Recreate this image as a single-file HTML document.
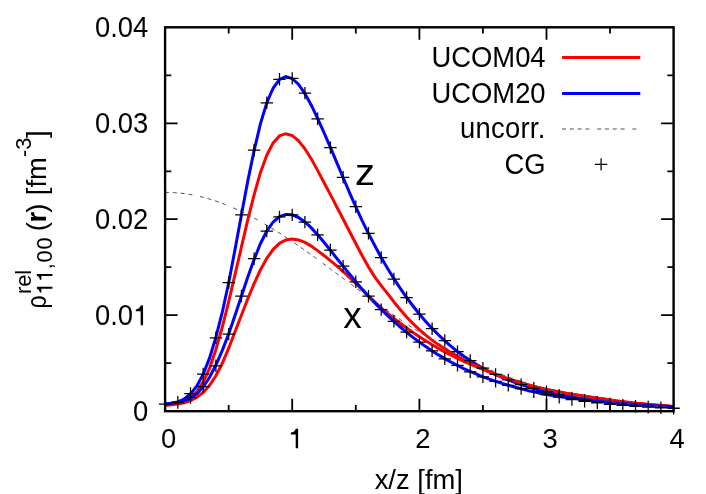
<!DOCTYPE html>
<html><head><meta charset="utf-8"><title>plot</title>
<style>
html,body{margin:0;padding:0;background:#fff;}
svg{display:block;will-change:transform;}
text{font-family:"Liberation Sans",sans-serif;font-size:27.4px;fill:#000;white-space:pre;}
.s{font-size:21.8px;}
.b{font-size:37px;}
</style></head><body>
<svg width="706" height="494" viewBox="0 0 706 494">
<rect width="706" height="494" fill="#fff"/>
<path d="M165.1,404.1 L171.5,403.3 L177.8,401.9 L184.2,399.0 L190.5,394.0 L196.9,386.0 L203.2,374.2 L209.6,357.9 L215.9,337.2 L222.3,312.1 L228.7,282.7 L235.0,249.6 L241.4,214.9 L247.7,181.4 L254.1,150.6 L260.4,123.9 L266.8,102.7 L273.2,88.0 L279.5,79.5 L285.9,76.6 L292.2,78.5 L298.6,84.4 L304.9,93.6 L311.3,105.2 L317.6,118.4 L324.0,132.6 L330.4,147.3 L336.7,162.4 L343.1,177.5 L349.4,192.4 L355.8,206.8 L362.1,220.6 L368.5,233.6 L374.9,245.8 L381.2,257.5 L387.6,268.4 L393.9,278.7 L400.3,288.4 L406.6,297.5 L413.0,306.0 L419.4,314.0 L425.7,321.4 L432.1,328.4 L438.4,334.8 L444.8,340.8 L451.1,346.3 L457.5,351.5 L463.8,356.2 L470.2,360.5 L476.6,364.6 L482.9,368.2 L489.3,371.6 L495.6,374.7 L502.0,377.5 L508.3,380.1 L514.7,382.4 L521.1,384.6 L527.4,386.6 L533.8,388.5 L540.1,390.2 L546.5,391.8 L552.8,393.3 L559.2,394.6 L565.5,395.9 L571.9,397.0 L578.3,398.1 L584.6,399.1 L591.0,400.0 L597.3,400.8 L603.7,401.6 L610.0,402.3 L616.4,403.0 L622.8,403.6 L629.1,404.2 L635.5,404.7 L641.8,405.1 L648.2,405.5 L654.5,405.8 L660.9,406.0 L667.2,406.3 L673.6,406.5" fill="none" stroke="#00f" stroke-width="3"/>
<path d="M165.1,405.4 L171.5,404.2 L177.8,403.1 L184.2,401.2 L190.5,397.6 L196.9,391.5 L203.2,381.9 L209.6,368.1 L215.9,349.5 L222.3,327.0 L228.7,301.7 L235.0,274.7 L241.4,247.2 L247.7,220.2 L254.1,194.9 L260.4,172.7 L266.8,155.1 L273.2,142.9 L279.5,135.9 L285.9,133.7 L292.2,135.5 L298.6,140.8 L304.9,148.8 L311.3,158.9 L317.6,170.4 L324.0,182.5 L330.4,194.6 L336.7,206.7 L343.1,219.0 L349.4,231.2 L355.8,243.5 L362.1,255.6 L368.5,267.0 L374.9,277.1 L381.2,285.6 L387.6,293.6 L393.9,301.9 L400.3,309.8 L406.6,317.0 L413.0,323.6 L419.4,329.6 L425.7,335.1 L432.1,340.1 L438.4,344.6 L444.8,348.8 L451.1,352.7 L457.5,356.3 L463.8,359.8 L470.2,363.1 L476.6,366.2 L482.9,369.2 L489.3,371.8 L495.6,374.3 L502.0,376.6 L508.3,378.8 L514.7,380.9 L521.1,382.8 L527.4,384.6 L533.8,386.4 L540.1,387.9 L546.5,389.4 L552.8,390.7 L559.2,391.9 L565.5,393.1 L571.9,394.2 L578.3,395.3 L584.6,396.3 L591.0,397.3 L597.3,398.2 L603.7,399.1 L610.0,400.0 L616.4,400.9 L622.8,401.7 L629.1,402.5 L635.5,403.2 L641.8,403.8 L648.2,404.4 L654.5,405.0 L660.9,405.6 L667.2,406.1 L673.6,406.7" fill="none" stroke="#f00" stroke-width="3"/>
<path d="M165.1,405.2 L171.5,404.7 L177.8,404.0 L184.2,402.8 L190.5,400.7 L196.9,397.3 L203.2,392.4 L209.6,385.3 L215.9,375.8 L222.3,363.3 L228.7,348.2 L235.0,331.7 L241.4,315.2 L247.7,299.0 L254.1,283.7 L260.4,270.0 L266.8,258.4 L273.2,249.3 L279.5,243.3 L285.9,239.9 L292.2,238.9 L298.6,239.9 L304.9,242.4 L311.3,246.1 L317.6,250.6 L324.0,255.5 L330.4,260.6 L336.7,265.9 L343.1,271.5 L349.4,277.3 L355.8,283.4 L362.1,289.7 L368.5,296.0 L374.9,302.1 L381.2,307.9 L387.6,313.3 L393.9,318.4 L400.3,323.3 L406.6,328.0 L413.0,332.5 L419.4,336.7 L425.7,340.8 L432.1,344.7 L438.4,348.4 L444.8,351.9 L451.1,355.2 L457.5,358.4 L463.8,361.4 L470.2,364.2 L476.6,366.9 L482.9,369.4 L489.3,371.9 L495.6,374.3 L502.0,376.6 L508.3,378.8 L514.7,380.9 L521.1,382.8 L527.4,384.6 L533.8,386.4 L540.1,387.9 L546.5,389.4 L552.8,390.7 L559.2,391.9 L565.5,393.1 L571.9,394.2 L578.3,395.3 L584.6,396.3 L591.0,397.3 L597.3,398.2 L603.7,399.1 L610.0,400.0 L616.4,400.9 L622.8,401.7 L629.1,402.5 L635.5,403.2 L641.8,403.8 L648.2,404.4 L654.5,405.0 L660.9,405.6 L667.2,406.1 L673.6,406.7" fill="none" stroke="#f00" stroke-width="3"/>
<path d="M165.1,404.0 L171.5,403.2 L177.8,402.3 L184.2,400.9 L190.5,398.2 L196.9,393.7 L203.2,386.9 L209.6,377.3 L215.9,365.0 L222.3,350.4 L228.7,333.7 L235.0,315.4 L241.4,296.3 L247.7,277.3 L254.1,259.5 L260.4,243.7 L266.8,231.0 L273.2,222.0 L279.5,216.6 L285.9,214.4 L292.2,214.8 L298.6,217.5 L304.9,222.0 L311.3,227.9 L317.6,234.8 L324.0,242.3 L330.4,250.2 L336.7,258.2 L343.1,266.1 L349.4,274.0 L355.8,281.7 L362.1,289.1 L368.5,296.2 L374.9,302.9 L381.2,309.4 L387.6,315.6 L393.9,321.4 L400.3,327.0 L406.6,332.3 L413.0,337.4 L419.4,342.1 L425.7,346.6 L432.1,350.9 L438.4,354.9 L444.8,358.6 L451.1,362.2 L457.5,365.5 L463.8,368.6 L470.2,371.5 L476.6,374.2 L482.9,376.8 L489.3,379.1 L495.6,381.4 L502.0,383.4 L508.3,385.3 L514.7,387.1 L521.1,388.8 L527.4,390.4 L533.8,391.8 L540.1,393.2 L546.5,394.5 L552.8,395.6 L559.2,396.6 L565.5,397.4 L571.9,398.1 L578.3,398.7 L584.6,399.4 L591.0,400.2 L597.3,400.9 L603.7,401.6 L610.0,402.3 L616.4,402.9 L622.8,403.4 L629.1,403.9 L635.5,404.4 L641.8,404.9 L648.2,405.4 L654.5,405.8 L660.9,406.1 L667.2,406.4 L673.6,406.6" fill="none" stroke="#00f" stroke-width="3"/>
<path d="M165.1,192.4 L168.3,192.4 L171.5,192.5 L174.6,192.7 L177.8,192.9 L181.0,193.2 L184.2,193.6 L187.3,194.1 L190.5,194.6 L193.7,195.2 L196.9,195.8 L200.1,196.5 L203.2,197.3 L206.4,198.2 L209.6,199.1 L212.8,200.1 L215.9,201.1 L219.1,202.2 L222.3,203.4 L225.5,204.6 L228.7,205.9 L231.8,207.2 L235.0,208.6 L238.2,210.0 L241.4,211.5 L244.6,213.1 L247.7,214.7 L250.9,216.3 L254.1,218.0 L257.3,219.8 L260.4,221.6 L263.6,223.4 L266.8,225.3 L270.0,227.2 L273.2,229.1 L276.3,231.1 L279.5,233.1 L282.7,235.2 L285.9,237.3 L289.0,239.4 L292.2,241.5 L295.4,243.7 L298.6,245.9 L301.8,248.1 L304.9,250.4 L308.1,252.6 L311.3,254.9 L314.5,257.2 L317.6,259.5 L320.8,261.8 L324.0,264.2 L327.2,266.5 L330.4,268.9 L333.5,271.2 L336.7,273.6 L339.9,275.9 L343.1,278.3 L346.3,280.7 L349.4,283.0 L352.6,285.4 L355.8,287.8 L359.0,290.1 L362.1,292.5 L365.3,294.8 L368.5,297.1 L371.7,299.4 L374.9,301.7 L378.0,304.0 L381.2,306.3 L384.4,308.6 L387.6,310.8 L390.7,313.0 L393.9,315.2 L397.1,317.4 L400.3,319.6 L403.5,321.7 L406.6,323.9 L409.8,326.0 L413.0,328.0 L416.2,330.1 L419.4,332.1 L422.5,334.1 L425.7,336.1 L428.9,338.0 L432.1,340.0 L435.2,341.8 L438.4,343.7 L441.6,345.5 L444.8,347.3 L448.0,349.1 L451.1,350.9 L454.3,352.6 L457.5,354.2 L460.7,355.9 L463.8,357.5 L467.0,359.1 L470.2,360.7 L473.4,362.2 L476.6,363.7 L479.7,365.2 L482.9,366.6 L486.1,368.0 L489.3,369.4 L492.4,370.7 L495.6,372.0 L498.8,373.3 L502.0,374.6 L505.2,375.8 L508.3,377.0 L511.5,378.1 L514.7,379.3 L517.9,380.4 L521.1,381.4 L524.2,382.5 L527.4,383.5 L530.6,384.5 L533.8,385.5 L536.9,386.4 L540.1,387.3 L543.3,388.2 L546.5,389.0 L549.7,389.9 L552.8,390.7 L556.0,391.5 L559.2,392.2 L562.4,393.0 L565.5,393.7 L568.7,394.4 L571.9,395.0 L575.1,395.7 L578.3,396.3 L581.4,396.9 L584.6,397.5 L587.8,398.1 L591.0,398.6 L594.1,399.1 L597.3,399.6 L600.5,400.1 L603.7,400.6 L606.9,401.1 L610.0,401.5 L613.2,401.9 L616.4,402.3 L619.6,402.7 L622.8,403.1 L625.9,403.5 L629.1,403.8 L632.3,404.2 L635.5,404.5 L638.6,404.8 L641.8,405.1 L645.0,405.4 L648.2,405.6 L651.4,405.9 L654.5,406.2 L657.7,406.4 L660.9,406.6 L664.1,406.9 L667.2,407.1 L670.4,407.3 L673.6,407.5" fill="none" stroke="#505050" stroke-width="1" stroke-dasharray="4 3.8 4 3.8 4 3.8 4 7.8"/>
<path d="M158.9,404.0h12.4M165.1,397.8v12.4M158.9,404.0h12.4M165.1,397.8v12.4M171.6,402.3h12.4M177.8,396.1v12.4M171.6,402.6h12.4M177.8,396.4v12.4M184.3,393.5h12.4M190.5,387.3v12.4M184.3,397.6h12.4M190.5,391.4v12.4M197.0,374.0h12.4M203.2,367.8v12.4M197.0,386.6h12.4M203.2,380.4v12.4M209.8,337.8h12.4M215.9,331.6v12.4M209.8,365.8h12.4M215.9,359.6v12.4M222.5,282.7h12.4M228.7,276.5v12.4M222.5,334.1h12.4M228.7,327.9v12.4M235.2,214.9h12.4M241.4,208.7v12.4M235.2,296.0h12.4M241.4,289.8v12.4M247.9,150.2h12.4M254.1,144.0v12.4M247.9,258.7h12.4M254.1,252.5v12.4M260.6,102.8h12.4M266.8,96.6v12.4M260.6,231.1h12.4M266.8,224.9v12.4M273.3,79.3h12.4M279.5,73.1v12.4M273.3,216.9h12.4M279.5,210.7v12.4M286.0,78.4h12.4M292.2,72.2v12.4M286.0,214.9h12.4M292.2,208.7v12.4M298.7,93.1h12.4M304.9,86.9v12.4M298.7,222.1h12.4M304.9,215.9v12.4M311.4,118.8h12.4M317.6,112.6v12.4M311.4,234.8h12.4M317.6,228.6v12.4M324.2,147.6h12.4M330.4,141.4v12.4M324.2,250.0h12.4M330.4,243.8v12.4M336.9,177.3h12.4M343.1,171.1v12.4M336.9,266.2h12.4M343.1,260.0v12.4M349.6,206.7h12.4M355.8,200.5v12.4M349.6,281.8h12.4M355.8,275.6v12.4M362.3,233.3h12.4M368.5,227.1v12.4M362.3,296.2h12.4M368.5,290.0v12.4M375.0,257.5h12.4M381.2,251.3v12.4M375.0,309.6h12.4M381.2,303.4v12.4M387.7,279.0h12.4M393.9,272.8v12.4M387.7,321.3h12.4M393.9,315.1v12.4M400.4,297.5h12.4M406.6,291.3v12.4M400.4,332.0h12.4M406.6,325.8v12.4M413.2,314.1h12.4M419.4,307.9v12.4M413.2,342.1h12.4M419.4,335.9v12.4M425.9,328.7h12.4M432.1,322.5v12.4M425.9,350.9h12.4M432.1,344.7v12.4M438.6,340.5h12.4M444.8,334.3v12.4M438.6,358.8h12.4M444.8,352.6v12.4M451.3,351.6h12.4M457.5,345.4v12.4M451.3,365.4h12.4M457.5,359.2v12.4M464.0,360.5h12.4M470.2,354.3v12.4M464.0,371.8h12.4M470.2,365.6v12.4M476.7,368.2h12.4M482.9,362.0v12.4M476.7,376.8h12.4M482.9,370.6v12.4M489.4,374.4h12.4M495.6,368.2v12.4M489.4,381.3h12.4M495.6,375.1v12.4M502.1,379.9h12.4M508.3,373.7v12.4M502.1,385.3h12.4M508.3,379.1v12.4M514.9,384.6h12.4M521.1,378.4v12.4M514.9,388.5h12.4M521.1,382.3v12.4M527.6,388.3h12.4M533.8,382.1v12.4M527.6,391.7h12.4M533.8,385.5v12.4M540.3,391.8h12.4M546.5,385.6v12.4M540.3,394.6h12.4M546.5,388.4v12.4M553.0,395.2h12.4M559.2,389.0v12.4M553.0,397.2h12.4M559.2,391.0v12.4M565.7,398.0h12.4M571.9,391.8v12.4M565.7,399.5h12.4M571.9,393.3v12.4M578.4,400.3h12.4M584.6,394.1v12.4M578.4,401.4h12.4M584.6,395.2v12.4M591.1,402.3h12.4M597.3,396.1v12.4M591.1,402.8h12.4M597.3,396.6v12.4M603.8,403.9h12.4M610.0,397.7v12.4M603.8,404.3h12.4M610.0,398.1v12.4M616.5,405.2h12.4M622.8,399.0v12.4M616.5,405.4h12.4M622.8,399.2v12.4M629.3,406.1h12.4M635.5,399.9v12.4M629.3,406.4h12.4M635.5,400.2v12.4M642.0,407.0h12.4M648.2,400.8v12.4M642.0,407.2h12.4M648.2,401.0v12.4M654.7,407.6h12.4M660.9,401.4v12.4M654.7,407.8h12.4M660.9,401.6v12.4M667.4,408.2h12.4M673.6,402.0v12.4M667.4,408.4h12.4M673.6,402.2v12.4" fill="none" stroke="#000" stroke-width="1.25"/>
<path d="M228.7,411.2v-6.2M228.7,27.3v6.2M292.2,411.2v-12.5M292.2,27.3v12.5M355.8,411.2v-6.2M355.8,27.3v6.2M419.4,411.2v-12.5M419.4,27.3v12.5M482.9,411.2v-6.2M482.9,27.3v6.2M546.5,411.2v-12.5M546.5,27.3v12.5M610.0,411.2v-6.2M610.0,27.3v6.2M165.1,363.2h6.2M673.6,363.2h-6.2M165.1,315.2h12.5M673.6,315.2h-12.5M165.1,267.2h6.2M673.6,267.2h-6.2M165.1,219.2h12.5M673.6,219.2h-12.5M165.1,171.3h6.2M673.6,171.3h-6.2M165.1,123.3h12.5M673.6,123.3h-12.5M165.1,75.3h6.2M673.6,75.3h-6.2" fill="none" stroke="#000" stroke-width="1.8"/>
<rect x="165.1" y="27.3" width="508.5" height="383.9" fill="none" stroke="#000" stroke-width="2.4"/>
<text transform="translate(168.6,448.3) scale(1,1.03)" text-anchor="middle">0</text><text transform="translate(422.9,448.3) scale(1,1.03)" text-anchor="middle">2</text><text transform="translate(550.0,448.3) scale(1,1.03)" text-anchor="middle">3</text><text transform="translate(677.1,448.3) scale(1,1.03)" text-anchor="middle">4</text><path transform="translate(288.11,448.30) scale(1,1.0)" d="M10.0,0H7.6V-13.9H2.8V-15.75C5.3,-15.9 6.9,-17.3 7.7,-19.55H10.0Z" fill="#000"/>
<text transform="translate(148.3,421.0) scale(1,1.075)" text-anchor="end">0</text><text transform="translate(148.3,228.7) scale(1,1.075)" text-anchor="end">0.02</text><text transform="translate(148.3,132.7) scale(1,1.075)" text-anchor="end">0.03</text><text transform="translate(148.3,36.7) scale(1,1.075)" text-anchor="end">0.04</text><text transform="translate(133.1,325.3) scale(1,1.075)" text-anchor="end">0.0</text><path transform="translate(133.06,325.32) scale(1,1.01)" d="M10.0,0H7.6V-13.9H2.8V-15.75C5.3,-15.9 6.9,-17.3 7.7,-19.55H10.0Z" fill="#000"/>
<text transform="translate(418.8,489.0) scale(1,1.0)" text-anchor="middle">x/z [fm]</text>
<text transform="translate(545.6,66.9) scale(1,1.07)" text-anchor="end">UCOM04</text><text transform="translate(545.6,102.6) scale(1,1.07)" text-anchor="end">UCOM20</text><text transform="translate(545.6,138.4) scale(1,1.07)" text-anchor="end" letter-spacing="0.28">uncorr.</text><text transform="translate(545.6,174.1) scale(1,1.07)" text-anchor="end">CG</text>
<path d="M562.1,57.5H640.3" stroke="#f00" stroke-width="3"/>
<path d="M562.1,93.4H640.3" stroke="#00f" stroke-width="3"/>
<path d="M562,129H637" stroke="#505050" stroke-width="1" stroke-dasharray="4 3.8 4 3.8 4 3.8 4 7.8"/>
<path d="M594.9,164.4h12.4M601.1,158.2v12.4" stroke="#000" stroke-width="1.25"/>
<text transform="translate(355.0,184.6) scale(1.08,1.0)" class="b">z</text>
<text transform="translate(343.2,328.3) scale(1.0,1.0)" class="b">x</text>
<g transform="translate(45.9,309.8) rotate(-90)">
<text transform="translate(1.3,0.0) scale(0.85,1.0)">ρ</text>
<text transform="translate(15.7,-15.2) scale(1,1.0)" class="s">rel</text>
<path transform="translate(15,6.5) scale(0.7956)" d="M10.0,0H7.6V-13.9H2.8V-15.75C5.3,-15.9 6.9,-17.3 7.7,-19.55H10.0Z"/><path transform="translate(27.82,6.5) scale(0.7956)" d="M10.0,0H7.6V-13.9H2.8V-15.75C5.3,-15.9 6.9,-17.3 7.7,-19.55H10.0Z"/>
<text transform="translate(40.6,6.5) scale(1,1.0)" class="s" letter-spacing="0.7">,00</text>
<text transform="translate(78.5,0.0) scale(1,1.0)">(</text>
<text transform="translate(87.4,0.0) scale(1,1.0)" font-weight="bold">r</text>
<text transform="translate(97.0,0.0) scale(1,1.0)">)</text>
<text transform="translate(114.6,0.0) scale(1,1.0)">[fm</text>
<text transform="translate(152.7,-14.5) scale(1,1.0)" class="s">-3</text>
<text transform="translate(171.7,0.0) scale(1,1.0)">]</text>
</g>
</svg>
</body></html>
